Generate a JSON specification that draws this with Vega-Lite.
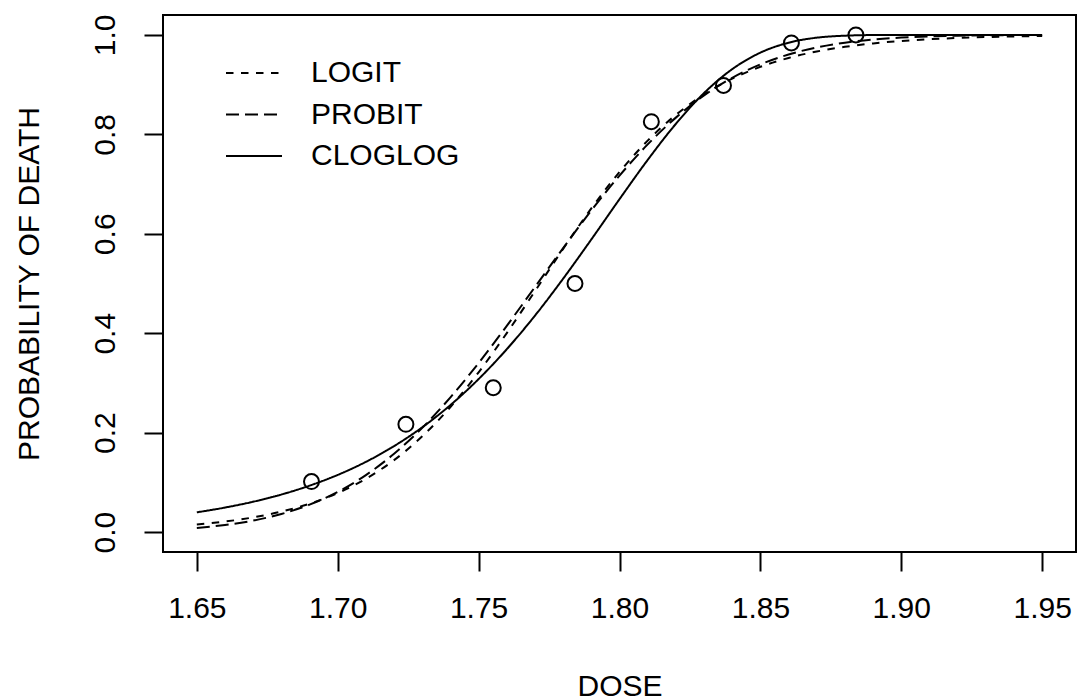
{
  "$schema": "https://vega.github.io/schema/vega-lite/v6.json",
  "autosize": {"type": "none"},
  "padding": {"left": 163, "top": 15, "right": 2, "bottom": 148},
  "width": 913,
  "height": 537,
  "background": "white",
  "config": {
    "font": "Liberation Sans, Arial, Helvetica, sans-serif",
    "view": {"stroke": "black", "strokeWidth": 2},
    "axis": {
      "grid": false,
      "labelFontSize": 30,
      "titleFontSize": 30,
      "titleFontWeight": "normal",
      "labelColor": "black",
      "titleColor": "black",
      "tickColor": "black",
      "tickWidth": 2,
      "tickSize": 19,
      "domain": false,
      "labelFont": "Liberation Sans, Arial, sans-serif",
      "titleFont": "Liberation Sans, Arial, sans-serif"
    },
    "legend": {
      "labelFont": "Liberation Sans, Arial, sans-serif",
      "labelFontSize": 30,
      "labelColor": "black"
    }
  },
  "datasets": {
    "curves": [
      {"d": 1.65, "m": "LOGIT", "p": 0.0152}, {"d": 1.66, "m": "LOGIT", "p": 0.0212}, {"d": 1.67, "m": "LOGIT", "p": 0.0296}, {"d": 1.68, "m": "LOGIT", "p": 0.0413}, {"d": 1.69, "m": "LOGIT", "p": 0.0571}, {"d": 1.70, "m": "LOGIT", "p": 0.0786}, {"d": 1.71, "m": "LOGIT", "p": 0.1073}, {"d": 1.72, "m": "LOGIT", "p": 0.1448}, {"d": 1.73, "m": "LOGIT", "p": 0.1926}, {"d": 1.74, "m": "LOGIT", "p": 0.2516}, {"d": 1.75, "m": "LOGIT", "p": 0.3214}, {"d": 1.76, "m": "LOGIT", "p": 0.4002}, {"d": 1.77, "m": "LOGIT", "p": 0.4845}, {"d": 1.78, "m": "LOGIT", "p": 0.5697}, {"d": 1.79, "m": "LOGIT", "p": 0.6510}, {"d": 1.80, "m": "LOGIT", "p": 0.7243}, {"d": 1.81, "m": "LOGIT", "p": 0.7873}, {"d": 1.82, "m": "LOGIT", "p": 0.8391}, {"d": 1.83, "m": "LOGIT", "p": 0.8802}, {"d": 1.84, "m": "LOGIT", "p": 0.9119}, {"d": 1.85, "m": "LOGIT", "p": 0.9358}, {"d": 1.86, "m": "LOGIT", "p": 0.9536}, {"d": 1.87, "m": "LOGIT", "p": 0.9666}, {"d": 1.88, "m": "LOGIT", "p": 0.9760}, {"d": 1.89, "m": "LOGIT", "p": 0.9829}, {"d": 1.90, "m": "LOGIT", "p": 0.9878}, {"d": 1.91, "m": "LOGIT", "p": 0.9913}, {"d": 1.92, "m": "LOGIT", "p": 0.9938}, {"d": 1.93, "m": "LOGIT", "p": 0.9956}, {"d": 1.94, "m": "LOGIT", "p": 0.9969}, {"d": 1.95, "m": "LOGIT", "p": 0.9978},
      {"d": 1.65, "m": "PROBIT", "p": 0.0085}, {"d": 1.66, "m": "PROBIT", "p": 0.0143}, {"d": 1.67, "m": "PROBIT", "p": 0.0232}, {"d": 1.68, "m": "PROBIT", "p": 0.0364}, {"d": 1.69, "m": "PROBIT", "p": 0.0552}, {"d": 1.70, "m": "PROBIT", "p": 0.0809}, {"d": 1.71, "m": "PROBIT", "p": 0.1147}, {"d": 1.72, "m": "PROBIT", "p": 0.1576}, {"d": 1.73, "m": "PROBIT", "p": 0.2098}, {"d": 1.74, "m": "PROBIT", "p": 0.2710}, {"d": 1.75, "m": "PROBIT", "p": 0.3400}, {"d": 1.76, "m": "PROBIT", "p": 0.4148}, {"d": 1.77, "m": "PROBIT", "p": 0.4929}, {"d": 1.78, "m": "PROBIT", "p": 0.5712}, {"d": 1.79, "m": "PROBIT", "p": 0.6468}, {"d": 1.80, "m": "PROBIT", "p": 0.7170}, {"d": 1.81, "m": "PROBIT", "p": 0.7797}, {"d": 1.82, "m": "PROBIT", "p": 0.8336}, {"d": 1.83, "m": "PROBIT", "p": 0.8782}, {"d": 1.84, "m": "PROBIT", "p": 0.9136}, {"d": 1.85, "m": "PROBIT", "p": 0.9407}, {"d": 1.86, "m": "PROBIT", "p": 0.9606}, {"d": 1.87, "m": "PROBIT", "p": 0.9747}, {"d": 1.88, "m": "PROBIT", "p": 0.9843}, {"d": 1.89, "m": "PROBIT", "p": 0.9906}, {"d": 1.90, "m": "PROBIT", "p": 0.9946}, {"d": 1.91, "m": "PROBIT", "p": 0.9970}, {"d": 1.92, "m": "PROBIT", "p": 0.9984}, {"d": 1.93, "m": "PROBIT", "p": 0.9992}, {"d": 1.94, "m": "PROBIT", "p": 0.9996}, {"d": 1.95, "m": "PROBIT", "p": 0.9998},
      {"d": 1.65, "m": "CLOGLOG", "p": 0.0398}, {"d": 1.66, "m": "CLOGLOG", "p": 0.0494}, {"d": 1.67, "m": "CLOGLOG", "p": 0.0611}, {"d": 1.68, "m": "CLOGLOG", "p": 0.0756}, {"d": 1.69, "m": "CLOGLOG", "p": 0.0934}, {"d": 1.70, "m": "CLOGLOG", "p": 0.1150}, {"d": 1.71, "m": "CLOGLOG", "p": 0.1413}, {"d": 1.72, "m": "CLOGLOG", "p": 0.1730}, {"d": 1.73, "m": "CLOGLOG", "p": 0.2108}, {"d": 1.74, "m": "CLOGLOG", "p": 0.2555}, {"d": 1.75, "m": "CLOGLOG", "p": 0.3078}, {"d": 1.76, "m": "CLOGLOG", "p": 0.3679}, {"d": 1.77, "m": "CLOGLOG", "p": 0.4354}, {"d": 1.78, "m": "CLOGLOG", "p": 0.5097}, {"d": 1.79, "m": "CLOGLOG", "p": 0.5886}, {"d": 1.80, "m": "CLOGLOG", "p": 0.6696}, {"d": 1.81, "m": "CLOGLOG", "p": 0.7485}, {"d": 1.82, "m": "CLOGLOG", "p": 0.8211}, {"d": 1.83, "m": "CLOGLOG", "p": 0.8830}, {"d": 1.84, "m": "CLOGLOG", "p": 0.9311}, {"d": 1.85, "m": "CLOGLOG", "p": 0.9643}, {"d": 1.86, "m": "CLOGLOG", "p": 0.9843}, {"d": 1.87, "m": "CLOGLOG", "p": 0.9944}, {"d": 1.88, "m": "CLOGLOG", "p": 0.9984}, {"d": 1.89, "m": "CLOGLOG", "p": 0.9997}, {"d": 1.90, "m": "CLOGLOG", "p": 1.0}, {"d": 1.91, "m": "CLOGLOG", "p": 1.0}, {"d": 1.92, "m": "CLOGLOG", "p": 1.0}, {"d": 1.93, "m": "CLOGLOG", "p": 1.0}, {"d": 1.94, "m": "CLOGLOG", "p": 1.0}, {"d": 1.95, "m": "CLOGLOG", "p": 1.0}
    ],
    "obs": [
      {"dose": 1.6907, "prop": 0.1017},
      {"dose": 1.7242, "prop": 0.2167},
      {"dose": 1.7552, "prop": 0.2903},
      {"dose": 1.7842, "prop": 0.5},
      {"dose": 1.8113, "prop": 0.8254},
      {"dose": 1.8369, "prop": 0.8983},
      {"dose": 1.8610, "prop": 0.9839},
      {"dose": 1.8839, "prop": 1.0}
    ]
  },
  "layer": [
    {
      "data": {"name": "curves"},
      "mark": {"type": "line", "color": "black", "strokeWidth": 2, "interpolate": "monotone"},
      "encoding": {
        "x": {
          "field": "d", "type": "quantitative",
          "scale": {"domain": [1.638, 1.962], "nice": false, "zero": false},
          "axis": {"title": "DOSE", "values": [1.65, 1.70, 1.75, 1.80, 1.85, 1.90, 1.95], "format": ".2f", "labelPadding": 22, "titlePadding": 48}
        },
        "y": {
          "field": "p", "type": "quantitative",
          "scale": {"domain": [-0.04, 1.04], "nice": false, "zero": false},
          "axis": {"title": "PROBABILITY OF DEATH", "values": [0, 0.2, 0.4, 0.6, 0.8, 1.0], "format": ".1f", "labelAngle": -90, "labelAlign": "center", "labelBaseline": "alphabetic", "labelPadding": 30, "titlePadding": 46}
        },
        "strokeDash": {
          "field": "m", "type": "nominal",
          "scale": {"domain": ["LOGIT", "PROBIT", "CLOGLOG"], "range": [[7.5, 7.5], [13, 6], [1, 0]]},
          "legend": {
            "title": null,
            "orient": "none",
            "legendX": 76,
            "legendY": 43,
            "symbolType": "M-2,0H2",
            "symbolSize": 784,
            "symbolStrokeWidth": 2,
            "symbolStrokeColor": "black",
            "labelOffset": 42,
            "rowPadding": 11.5
          }
        }
      }
    },
    {
      "data": {"name": "obs"},
      "mark": {"type": "point", "shape": "circle", "filled": false, "color": "black", "strokeWidth": 2, "size": 225, "opacity": 1},
      "encoding": {
        "x": {"field": "dose", "type": "quantitative"},
        "y": {"field": "prop", "type": "quantitative"}
      }
    }
  ]
}
